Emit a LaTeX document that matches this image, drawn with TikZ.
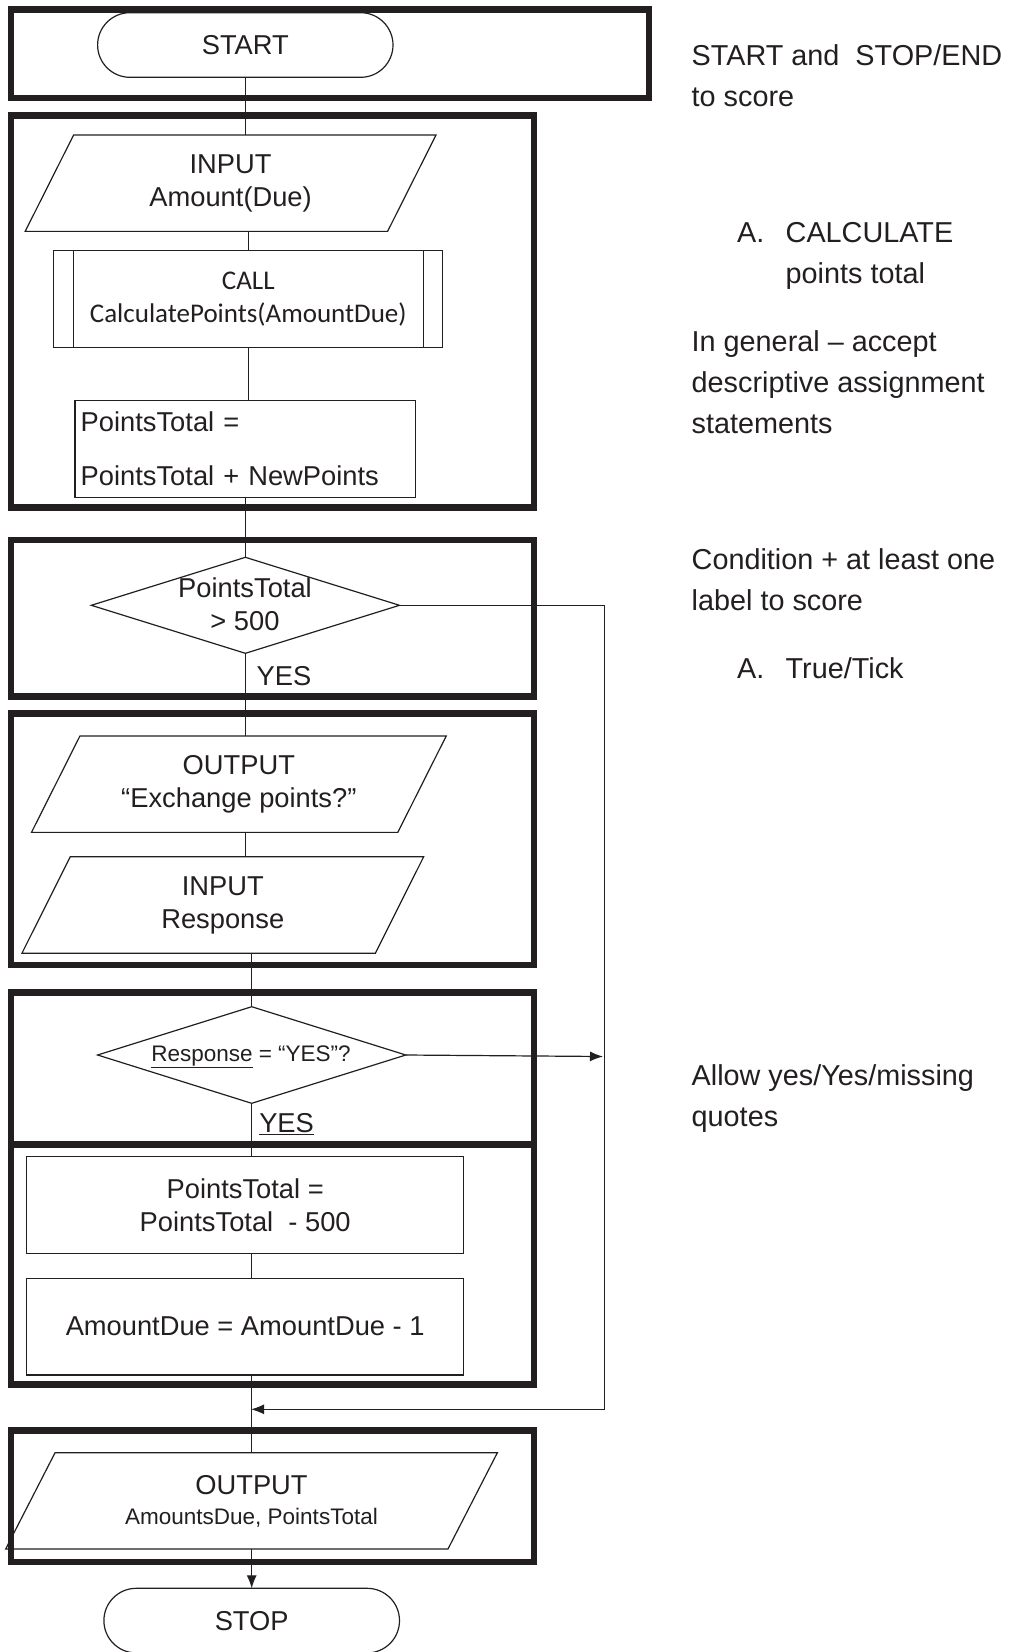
\documentclass[tikz,border=0pt]{standalone}
\usepackage{fontspec}
\setmainfont{Liberation Sans}
\newfontfamily\flowfont{Liberation Sans}
\newfontfamily\callfont{Carlito}
\usetikzlibrary{shapes.geometric,arrows.meta}
\definecolor{ink}{HTML}{231F20}
\tikzset{
  every node/.style={text=ink},
  ln/.style={draw=ink, line width=1.2pt},
  grp/.style={draw=ink, line width=6.5pt},
  flow/.style={font=\flowfont\fontsize{27.3}{33}\selectfont, align=center},
  small/.style={font=\fontsize{22.5}{30}\selectfont, align=center},
  plain/.style={inner sep=0pt, outer sep=0pt},
  procbox/.style={ln, flow, inner sep=0pt, outer sep=0pt},
  termbox/.style={ln, flow, inner sep=0pt, outer sep=0pt, rounded corners=32.3pt},
  iobox/.style={flow, inner sep=0pt, outer sep=0pt},
  decision/.style={ln, diamond, inner sep=0pt, outer sep=0pt},
  note/.style={font=\fontsize{28.8}{41}\selectfont, anchor=base west, inner sep=0pt, outer sep=0pt},
  arr/.style={-{Latex[length=13pt,width=10pt]}}
}
\newcommand\slantbox[2]{\draw[ln] ([xshift=#2]#1.north west) -- ([xshift=#2]#1.north east) -- ([xshift=-#2]#1.south east) -- ([xshift=-#2]#1.south west) -- cycle;}
\begin{document}
\begin{tikzpicture}[x=1pt,y=-1pt]
\useasboundingbox (0,0) rectangle (1009,1652);
\fill[white] (0,0) rectangle (1009,1652);

% ---- flowchart nodes ----
\node[termbox, minimum width=295.4pt, minimum height=64.6pt] (start) at (245.3,45) {START};

\node[iobox, minimum width=362.4pt, minimum height=96.3pt] (in1) at (230.6,183.2) {INPUT\\Amount(Due)};
\slantbox{in1}{24.2pt}

\node[procbox, font=\callfont\fontsize{27}{32.3}\selectfont, minimum width=389pt, minimum height=97pt] (call) at (248.3,299.2) {CALL\\CalculatePoints(AmountDue)};
\draw[ln] ([xshift=19.6pt]call.north west) -- ([xshift=19.6pt]call.south west);
\draw[ln] ([xshift=-19.4pt]call.north east) -- ([xshift=-19.4pt]call.south east);

\node[procbox, align=left, text width=329pt, inner xsep=5.8pt, minimum height=96.6pt] (pt1) at (245.2,449) {PointsTotal =\\[21pt]PointsTotal + NewPoints};

\node[decision, minimum width=308.2pt, minimum height=96pt] (d1) at (245.4,605.3) {};
\node[plain, flow] (d1txt) at (245,604.3) {PointsTotal\\> 500};
\node[plain, flow, anchor=base] (yes1) at (283.9,685) {YES};

\node[iobox, minimum width=366.3pt, minimum height=96.3pt] (out1) at (238.85,784.2) {OUTPUT\\“Exchange points?”};
\slantbox{out1}{24.2pt}

\node[iobox, minimum width=353.4pt, minimum height=96.6pt] (in2) at (222.8,905) {INPUT\\Response};
\slantbox{in2}{24.2pt}

\node[decision, minimum width=308.2pt, minimum height=96.6pt] (d2) at (251.7,1055) {};
\node[plain, small] (d2txt) at (251,1057) {\underline{Response} = “YES”?};
\node[plain, flow, anchor=base] (yes2) at (286.6,1132.4) {\underline{YES}};

\node[procbox, minimum width=437.3pt, minimum height=96.6pt] (pt2) at (245.2,1205) {PointsTotal =\\PointsTotal\ \ - 500};
\node[procbox, minimum width=437.3pt, minimum height=96.7pt] (amt) at (245.2,1326.7) {AmountDue = AmountDue - 1};

\node[iobox, minimum width=442.3pt, minimum height=96.3pt] (out2) at (251.5,1500.9) {OUTPUT\\[-3pt]{\fontsize{22.5}{27}\selectfont\normalfont AmountsDue, PointsTotal}};
\slantbox{out2}{24.7pt}

\node[termbox, minimum width=295.6pt, minimum height=64.6pt] (stop) at (251.7,1620.6) {STOP};

% ---- connectors ----
\coordinate (rt) at (604.7,1409.3);
\coordinate (mrg) at (251,1409.3);
\coordinate (d2end) at (603,1056.5);

\draw[ln] (start.south) -- (start.south |- in1.north);
\draw[ln] (call.north |- in1.south) -- (call.north);
\draw[ln] (call.south) -- (call.south |- pt1.north);
\draw[ln] (d1.north |- pt1.south) -- (d1.north);
\draw[ln] (d1.south) -- (d1.south |- out1.north);
\draw[ln] (d1.south |- out1.south) -- (d1.south |- in2.north);
\draw[ln] (d2.north |- in2.south) -- (d2.north);
\draw[ln] (d2.south) -- (d2.south |- pt2.north);
\draw[ln] (d2.south |- pt2.south) -- (d2.south |- amt.north);
\draw[ln] (out2.north |- amt.south) -- (out2.north);
\draw[ln, arr] (stop.north |- out2.south) -- (stop.north);
\draw[ln, arr] (d1.east) -- (d1.east -| rt) -- (rt) -- (mrg);
\draw[ln, arr] (d2.east) -- (d2end);

% ---- group frames ----
\draw[grp] (11,9.5) rectangle (649,98);
\draw[grp] (11,115.5) rectangle (534,507.5);
\draw[grp] (11,540) rectangle (534,696.5);
\draw[grp] (11,713.7) rectangle (534,965);
\draw[grp] (11,992.5) rectangle (534,1144.5);
\draw[grp] (11,1144.5) rectangle (534,1384.5);
\draw[grp] (11,1430.5) rectangle (534,1562);

% ---- notes ----
\node[note] (n1) at (691.7,65.7) {START and\ \ STOP/END};
\node[note] (n2) at (691.7,106.7) {to score};
\node[note] (n3a) at (737.2,242.1) {A.};
\node[note] (n3b) at (785.7,242.1) {CALCULATE};
\node[note] (n4) at (785.7,283.1) {points total};
\node[note] (n5) at (691.7,351.6) {In general – accept};
\node[note] (n6) at (691.7,392.6) {descriptive assignment};
\node[note] (n7) at (691.7,433.6) {statements};
\node[note] (n8) at (691.7,569.7) {Condition + at least one};
\node[note] (n9) at (691.7,610.7) {label to score};
\node[note] (n10a) at (737.2,678.1) {A.};
\node[note] (n10b) at (785.7,678.1) {True/Tick};
\node[note] (n11) at (691.7,1085.7) {Allow yes/Yes/missing};
\node[note] (n12) at (691.7,1126.7) {quotes};
\end{tikzpicture}
\end{document}
